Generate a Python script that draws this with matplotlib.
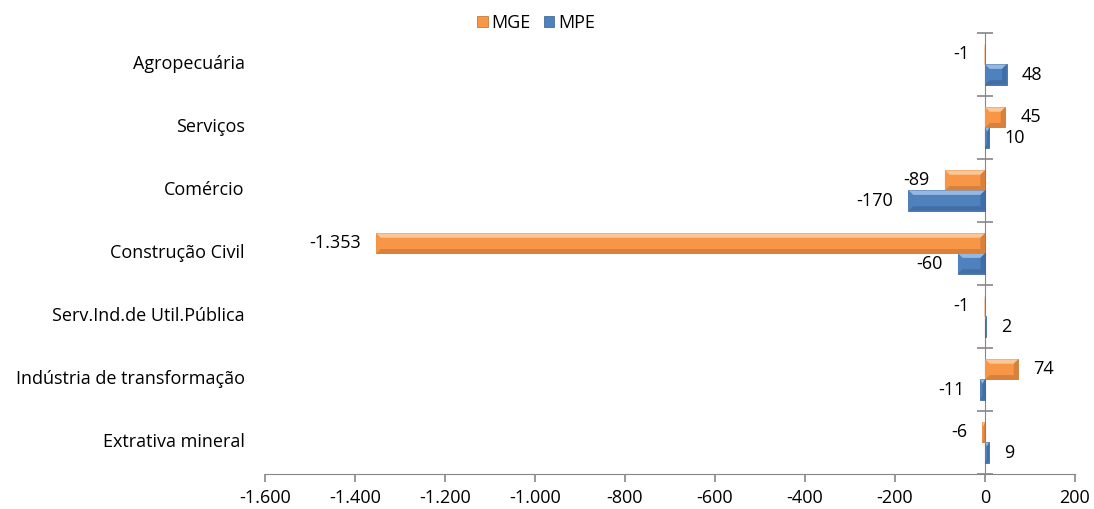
import numpy as np
import matplotlib
matplotlib.use('Agg')
import matplotlib.pyplot as plt
from matplotlib.patches import Polygon
from matplotlib.transforms import blended_transform_factory

# Data (bottom to top)
setores = ['Extrativa mineral', 'Indústria de transformação', 'Serv.Ind.de Util.Pública',
           'Construção Civil', 'Comércio', 'Serviços', 'Agropecuária']
mge = [-6, 74, -1, -1353, -89, 45, -1]
mpe = [9, -11, 2, -60, -170, 10, 48]

plt.rcParams['font.family'] = ['Open Sans', 'DejaVu Sans']
fs = 13

fig = plt.figure(figsize=(10.94, 5.09), dpi=100)
ax = fig.add_axes([0.2422, 0.0688, 0.7404, 0.8664])

y = np.arange(len(setores))
h = 0.32
cores = {'MGE': ('#F79646', '#FCC796', '#D9803A', '#B86A2C'),
         'MPE': ('#4F81BD', '#95B8E2', '#416EA6', '#335C8F')}

bars_mge = ax.barh(y + h / 2, mge, height=h, color=cores['MGE'][0], label='MGE', zorder=2)
bars_mpe = ax.barh(y - h / 2, mpe, height=h, color=cores['MPE'][0], label='MPE', zorder=2)

ax.set_xlim(-1600, 200)
ax.set_ylim(-0.5, len(setores) - 0.5)


def bevel(bars, base, light, dark, edge):
    # pyramid-style bevel drawn on top of each bar
    dx = 10.0   # data units (~4.5 px)
    dy = 0.07
    for b in bars:
        x0, x1 = sorted([b.get_x(), b.get_x() + b.get_width()])
        y0, y1 = b.get_y(), b.get_y() + b.get_height()
        ddx = min(dx, (x1 - x0) / 2)
        ix0, ix1 = x0 + ddx, x1 - ddx
        iy0, iy1 = y0 + dy, y1 - dy
        b.set_edgecolor(edge)
        b.set_linewidth(0.5)
        facets = [
            ([(x0, y1), (x1, y1), (ix1, iy1), (ix0, iy1)], light),
            ([(x0, y0), (x1, y0), (ix1, iy0), (ix0, iy0)], dark),
            ([(x0, y0), (ix0, iy0), (ix0, iy1), (x0, y1)], base),
            ([(x1, y0), (ix1, iy0), (ix1, iy1), (x1, y1)], dark),
        ]
        for pts, c in facets:
            ax.add_patch(Polygon(pts, closed=True, facecolor=c, edgecolor='none', zorder=3))


bevel(bars_mge, *cores['MGE'])
bevel(bars_mpe, *cores['MPE'])


def fmt(v):
    return f'{v:,.0f}'.replace(',', '.')


for bars, vals in [(bars_mge, mge), (bars_mpe, mpe)]:
    for b, v in zip(bars, vals):
        yc = b.get_y() + b.get_height() / 2
        off = 11 if v >= 0 else -11
        ax.annotate(fmt(v), (v, yc), xytext=(off, 0), textcoords='offset points',
                    ha='left' if v >= 0 else 'right', va='center', fontsize=fs)

# axes styling
gray = '#868686'
for s in ['top', 'right']:
    ax.spines[s].set_visible(False)
ax.spines['left'].set_position(('data', 0))
ax.spines['left'].set_color(gray)
ax.spines['bottom'].set_color(gray)
ax.spines['left'].set_zorder(1)

ax.set_yticks(y)
ax.set_yticklabels([])
ax.tick_params(axis='y', which='major', length=0)
ax.set_yticks(np.arange(len(setores) + 1) - 0.5, minor=True)
ax.tick_params(axis='y', which='minor', length=12, direction='inout', color=gray, width=1.2)

xt = np.arange(-1600, 201, 200)
ax.set_xticks(xt)
ax.set_xticklabels([fmt(v) for v in xt], fontsize=fs)
ax.tick_params(axis='x', length=6, color=gray, width=1.2, pad=5)

trans = blended_transform_factory(ax.transAxes, ax.transData)
for yi, nome in zip(y, setores):
    ax.text(-0.025, yi, nome, transform=trans, ha='right', va='center', fontsize=fs)

fig.legend(loc='center', bbox_to_anchor=(0.49, 0.955), ncol=2, frameon=False,
           handlelength=0.6, handleheight=0.6, handletextpad=0.2, columnspacing=0.7,
           fontsize=fs)

fig.savefig('out.png', dpi=100)
